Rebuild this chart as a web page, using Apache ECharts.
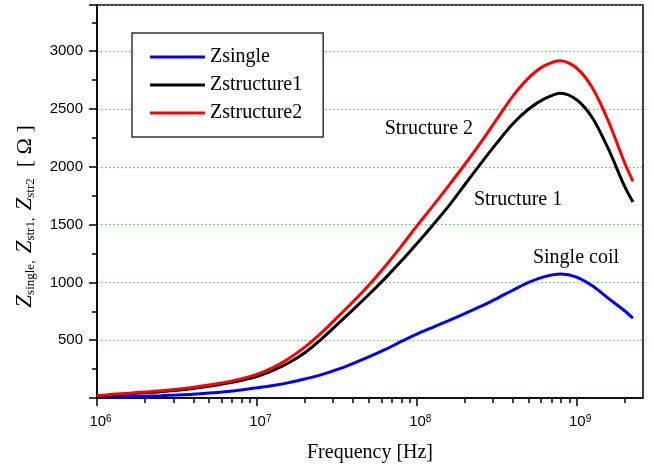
<!DOCTYPE html>
<html>
<head>
    <meta charset="utf-8" />
    <title>Impedance vs frequency</title>
    <style>
        html, body { margin: 0; padding: 0; background: #fff; }
        #main { width: 654px; height: 471px; }
    </style>
</head>
<body>
    <div id="main"></div>
    <script src="https://cdn.jsdelivr.net/npm/echarts@6/dist/echarts.min.js"></script>
    <script type="text/javascript">
        // frequency samples [Hz] (every 0.1 decade) and impedances [Ohm]
        var freqHz = [1e6, 1.259e6, 1.585e6, 1.995e6, 2.512e6, 3.162e6, 3.981e6, 5.012e6, 6.31e6, 7.943e6,
            1e7, 1.259e7, 1.585e7, 1.995e7, 2.512e7, 3.162e7, 3.981e7, 5.012e7, 6.31e7, 7.943e7,
            1e8, 1.259e8, 1.585e8, 1.995e8, 2.512e8, 3.162e8, 3.981e8, 5.012e8, 6.31e8, 7.943e8,
            1e9, 1.259e9, 1.585e9, 1.995e9, 2.25e9];
        var zSingle = [8, 10, 12, 16, 20, 26, 33, 43, 55, 70,
            88, 108, 133, 165, 200, 245, 298, 355, 418, 487,
            553, 612, 670, 730, 792, 860, 932, 1000, 1050, 1072,
            1045, 968, 860, 755, 690];
        var zStructure1 = [14, 25, 35, 45, 54, 67, 83, 102, 125, 152,
            185, 238, 305, 392, 505, 632, 762, 895, 1033, 1180,
            1335, 1495, 1662, 1845, 2028, 2205, 2370, 2500, 2590, 2637,
            2580, 2420, 2150, 1830, 1695];
        var zStructure2 = [20, 32, 42, 52, 62, 76, 92, 112, 135, 165,
            204, 262, 342, 440, 560, 693, 830, 975, 1135, 1308,
            1487, 1660, 1838, 2020, 2210, 2410, 2610, 2770, 2875, 2918,
            2855, 2680, 2390, 2035, 1875];

        var seriesNames = ['Zsingle', 'Zstructure1', 'Zstructure2'];
        var majorTicks = [1e6, 1e7, 1e8, 1e9];
        var minorTicks = [2e6, 3e6, 4e6, 5e6, 6e6, 7e6, 8e6, 9e6,
            2e7, 3e7, 4e7, 5e7, 6e7, 7e7, 8e7, 9e7,
            2e8, 3e8, 4e8, 5e8, 6e8, 7e8, 8e8, 9e8, 2e9];

        // curve annotations: [text, freq, value]
        var notes = [
            ['Structure 2', 1.19e8, 2330],
            ['Structure 1', 4.3e8, 1715],
            ['Single coil', 9.9e8, 1210]
        ];

        var serif = "'Liberation Serif', 'Times New Roman', serif";
        var sans = "'Liberation Sans', Arial, sans-serif";

        function pairs(ys) {
            var out = [];
            for (var i = 0; i < freqHz.length; i++) {
                out.push([freqHz[i], ys[i]]);
            }
            return out;
        }

        function note(n) {
            return {
                coord: [n[1], n[2]],
                symbolSize: 0,
                label: {
                    show: true,
                    position: 'inside',
                    formatter: n[0],
                    color: '#000',
                    fontFamily: serif,
                    fontSize: 20
                }
            };
        }

        function line(name, color, ys, n) {
            var s = {
                name: name,
                type: 'line',
                data: pairs(ys),
                smooth: 0.3,
                showSymbol: false,
                symbol: 'none',
                lineStyle: { color: color, width: 3 },
                itemStyle: { color: color }
            };
            if (n) {
                s.markPoint = { silent: true, symbol: 'circle', data: [note(n)] };
            }
            return s;
        }

        var myChart = echarts.init(document.getElementById('main'));

        var option = {
            animation: false,
            backgroundColor: '#fff',
            textStyle: { fontFamily: sans },
            grid: {
                left: 97,
                right: 11,
                top: 5,
                bottom: 73,
                show: true,
                borderColor: '#000',
                borderWidth: 1.5
            },
            legend: {
                orient: 'vertical',
                left: 132,
                top: 33,
                padding: [14, 21, 14, 18],
                icon: 'rect',
                itemWidth: 55,
                itemHeight: 3,
                itemGap: 8,
                backgroundColor: '#fff',
                borderColor: '#333',
                borderWidth: 1.5,
                data: seriesNames,
                textStyle: { fontFamily: serif, fontSize: 20, lineHeight: 20, color: '#000' }
            },
            xAxis: [
                {
                    type: 'log',
                    logBase: 10,
                    min: 1e6,
                    max: 2.6e9,
                    name: 'Frequency [Hz]',
                    nameLocation: 'middle',
                    nameGap: 45,
                    nameTextStyle: { fontFamily: serif, fontSize: 20, color: '#000' },
                    axisLine: { onZero: false, lineStyle: { color: '#000', width: 1.5 } },
                    axisTick: { length: 8, lineStyle: { color: '#000', width: 1.5 }, customValues: majorTicks },
                    splitLine: { show: false },
                    axisLabel: {
                        color: '#000',
                        fontSize: 15,
                        margin: 16,
                        customValues: majorTicks,
                        formatter: function (v) {
                            return '{pad|}10{sup|' + Math.round(Math.log10(v)) + '}';
                        },
                        rich: {
                            pad: { width: 7 },
                            sup: { fontSize: 10, verticalAlign: 'top', lineHeight: 10 }
                        }
                    }
                },
                {
                    type: 'log',
                    logBase: 10,
                    min: 1e6,
                    max: 2.6e9,
                    position: 'bottom',
                    axisLine: { show: false },
                    axisTick: { length: 5, lineStyle: { color: '#000', width: 1.5 }, customValues: minorTicks },
                    axisLabel: { show: false },
                    splitLine: { show: false }
                }
            ],
            yAxis: {
                type: 'value',
                min: 0,
                max: 3400,
                interval: 500,
                name: '{z|Z}{s|single}{c|,  }{z|Z}{s|str1}{c|,  }{z|Z}{s|str2}{b|  [ Ω ]}',
                nameLocation: 'middle',
                nameRotate: 90,
                nameGap: 60,
                nameTextStyle: {
                    padding: [0, 30, 0, 0],
                    rich: {
                        z: { fontFamily: serif, fontStyle: 'italic', fontSize: 23, lineHeight: 24, color: '#000' },
                        s: { fontFamily: serif, fontSize: 13, lineHeight: 13, verticalAlign: 'bottom', color: '#000' },
                        c: { fontFamily: serif, fontSize: 14, lineHeight: 14, verticalAlign: 'bottom', color: '#000' },
                        b: { fontFamily: serif, fontSize: 22, lineHeight: 24, color: '#000' }
                    }
                },
                axisLine: { show: true, lineStyle: { color: '#000', width: 1.5 } },
                axisTick: { show: true, length: 8, lineStyle: { color: '#000', width: 1.5 } },
                minorTick: { show: true, splitNumber: 2, length: 5, lineStyle: { color: '#000', width: 1.5 } },
                axisLabel: {
                    color: '#000',
                    fontSize: 15,
                    margin: 14,
                    formatter: function (v) { return (v === 0 || v > 3000) ? '' : String(v); }
                },
                splitLine: {
                    show: true,
                    lineStyle: { color: '#22dd22', width: 1, type: [1.5, 2.5] }
                }
            },
            series: [
                line(seriesNames[0], '#0000ff', zSingle, notes[2]),
                line(seriesNames[1], '#000000', zStructure1, notes[1]),
                line(seriesNames[2], '#ff0000', zStructure2, notes[0])
            ]
        };

        myChart.setOption(option);
    </script>
</body>
</html>
